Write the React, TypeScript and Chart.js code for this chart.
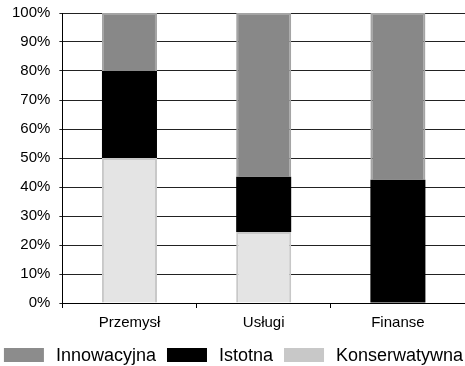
import React, { useEffect, useRef } from "react";
import { Chart, registerables } from "chart.js";

Chart.register(...registerables);

const categories = ["Przemysł", "Usługi", "Finanse"];
const konserwatywna = [50, 24.5, 0];
const istotna = [30, 19, 42.5];
const innowacyjna = [20, 56.5, 57.5];
const yTicks = [0, 10, 20, 30, 40, 50, 60, 70, 80, 90, 100];
const legendItems = ["Innowacyjna", "Istotna", "Konserwatywna"];
const legendColors = ["#8c8c8c", "#000000", "#c8c8c8"];

const FONT = "'Liberation Sans', Arial, sans-serif";

const customLegend = {
  id: "customLegend",
  afterDraw(chart: any) {
    const ctx = chart.ctx;
    ctx.save();
    ctx.font = `18px ${FONT}`;
    const boxW = 40;
    const boxH = 14;
    const gap = 12;
    const itemGap = 11;
    const widths = legendItems.map((t) => ctx.measureText(t).width);
    const total =
      widths.reduce((a, w) => a + boxW + gap + w, 0) + itemGap * (legendItems.length - 1);
    let x = (chart.width - total) / 2 + 1;
    const cy = 355;
    ctx.textBaseline = "middle";
    ctx.textAlign = "left";
    legendItems.forEach((t, i) => {
      ctx.fillStyle = legendColors[i];
      ctx.fillRect(x, cy - boxH / 2, boxW, boxH);
      x += boxW + gap;
      ctx.fillStyle = "#000";
      ctx.fillText(t, x, cy + 1);
      x += widths[i] + itemGap;
    });
    ctx.restore();
  },
};

const bw = (c: any) => (c.raw ? 2 : 0);

export default function App() {
  const ref = useRef<HTMLCanvasElement | null>(null);
  useEffect(() => {
    document.body.style.margin = "0";
    const ctx = ref.current!;
    const chart = new Chart(ctx, {
      type: "bar",
      data: {
        labels: categories,
        datasets: [
          {
            label: "Konserwatywna",
            data: konserwatywna,
            backgroundColor: "#e4e4e4",
            borderColor: "#c8c8c8",
            borderWidth: bw,
          },
          {
            label: "Istotna",
            data: istotna,
            backgroundColor: "#000000",
            borderColor: "#000000",
            borderWidth: 0,
          },
          {
            label: "Innowacyjna",
            data: innowacyjna,
            backgroundColor: "#888888",
            borderColor: "#a4a4a4",
            borderWidth: bw,
          },
        ],
      },
      plugins: [customLegend],
      options: {
        animation: false,
        responsive: false,
        maintainAspectRatio: false,
        datasets: {
          bar: { barPercentage: 0.41, categoryPercentage: 1 },
        },
        layout: { padding: { top: 13, right: 0, left: 3, bottom: 28 } },
        scales: {
          x: {
            stacked: true,
            grid: {
              drawOnChartArea: false,
              drawTicks: true,
              tickLength: 5,
              color: "#000",
            },
            border: { display: true, color: "#000", width: 1 },
            ticks: {
              color: "#000",
              font: { family: FONT, size: 15 },
              padding: 6,
            },
          },
          y: {
            stacked: true,
            min: 0,
            max: 100,
            afterBuildTicks: (axis: any) => {
              axis.ticks = yTicks.map((v) => ({ value: v }));
            },
            afterFit: (axis: any) => {
              axis.paddingTop = 0;
            },
            grid: {
              color: "#222",
              lineWidth: 1,
              drawTicks: true,
              tickLength: 3,
            },
            border: { display: true, color: "#000", width: 1 },
            ticks: {
              color: "#000",
              font: { family: FONT, size: 15 },
              padding: 9,
              callback: (v: any) => v + "%",
            },
          },
        },
        plugins: {
          tooltip: { enabled: false },
          legend: { display: false },
        },
      },
    });
    return () => chart.destroy();
  }, []);
  return <canvas ref={ref} width={465} height={366} style={{ display: "block" }} />;
}
